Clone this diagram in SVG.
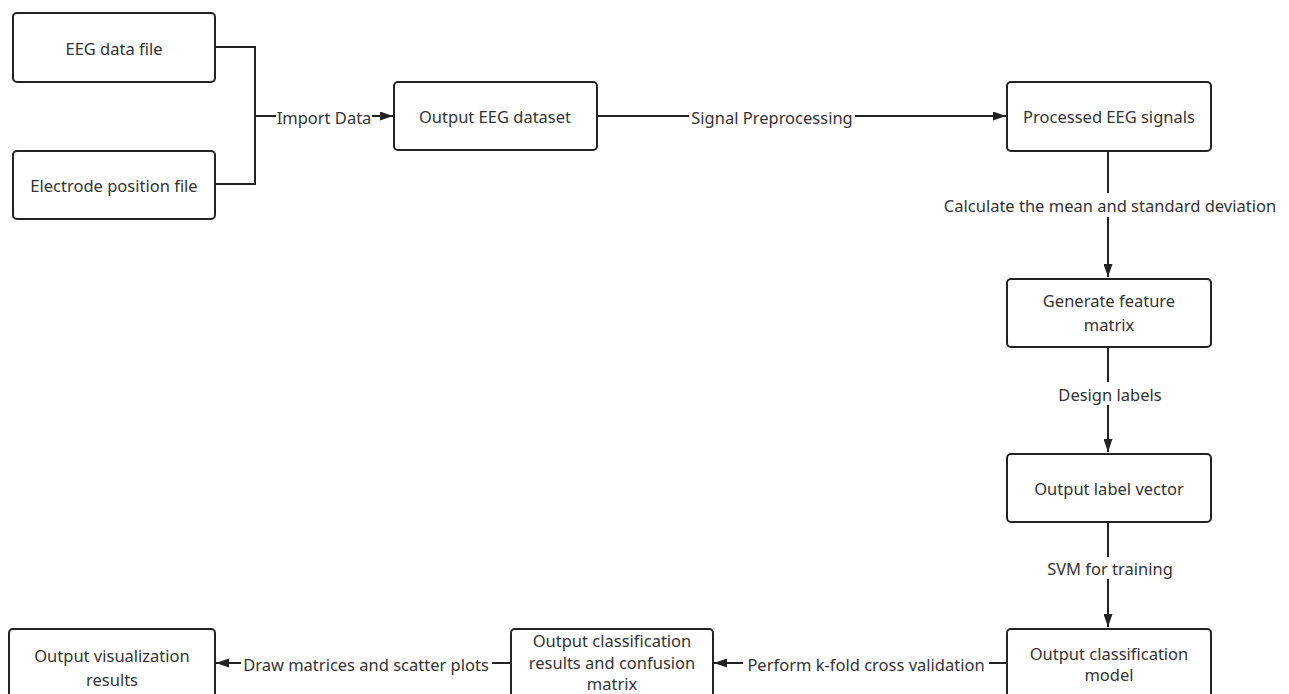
<svg xmlns="http://www.w3.org/2000/svg" width="1289" height="694" viewBox="0 0 1289 694">
<defs>
<marker id="arr" viewBox="0 0 13 9" refX="13" refY="4.5" markerWidth="13" markerHeight="9" markerUnits="userSpaceOnUse" orient="auto">
<path d="M0,0 L13,4.5 L0,9 z" fill="#222"/>
</marker>
<style>
.box{fill:#fff;stroke:#222;stroke-width:2}
.t{font-family:"Noto Sans","Open Sans",sans-serif;font-size:16.5px;fill:#333;text-anchor:middle;dominant-baseline:central}
.c{fill:none;stroke:#222;stroke-width:2}
.lb{font-family:"Noto Sans","Open Sans",sans-serif;font-size:16.5px;fill:#333;text-anchor:middle;dominant-baseline:central}
.bg{fill:#fff}
</style>
</defs>
<rect width="1289" height="694" fill="#fff"/>
<g id="connectors">
<path class="c" d="M215,47 H255 V184 H215"/>
<path class="c" d="M255,116 H393" marker-end="url(#arr)"/>
<rect class="bg" x="276" y="105" width="96" height="24"/>
<text class="lb" x="324" y="117">Import Data</text>
<path class="c" d="M597,116 H1006" marker-end="url(#arr)"/>
<rect class="bg" x="689" y="105" width="166" height="24"/>
<text class="lb" x="772" y="117">Signal Preprocessing</text>
<path class="c" d="M1108,151 V277" marker-end="url(#arr)"/>
<rect class="bg" x="938" y="193" width="344" height="24"/>
<text class="lb" x="1110" y="205">Calculate the mean and standard deviation</text>
<path class="c" d="M1108,347 V452" marker-end="url(#arr)"/>
<rect class="bg" x="1055" y="382" width="110" height="23"/>
<text class="lb" x="1110" y="394">Design labels</text>
<path class="c" d="M1108,522 V627" marker-end="url(#arr)"/>
<rect class="bg" x="1043" y="557" width="134" height="22"/>
<text class="lb" x="1110" y="568">SVM for training</text>
<path class="c" d="M1007,663 H714" marker-end="url(#arr)"/>
<rect class="bg" x="743" y="651" width="246" height="24"/>
<text class="lb" x="866" y="664">Perform k-fold cross validation</text>
<path class="c" d="M511,663 H216" marker-end="url(#arr)"/>
<rect class="bg" x="241" y="651" width="251" height="24"/>
<text class="lb" x="366" y="664">Draw matrices and scatter plots</text>
</g>
<g id="n1"><rect class="box" x="13" y="13" width="202" height="69" rx="4"/><text class="t" x="114" y="48">EEG data file</text></g>
<g id="n2"><rect class="box" x="13" y="151" width="202" height="68" rx="4"/><text class="t" x="114" y="185">Electrode position file</text></g>
<g id="n3"><rect class="box" x="394" y="82" width="203" height="68" rx="4"/><text class="t" x="495" y="116">Output EEG dataset</text></g>
<g id="n4"><rect class="box" x="1007" y="82" width="204" height="69" rx="4"/><text class="t" x="1109" y="116">Processed EEG signals</text></g>
<g id="n5"><rect class="box" x="1007" y="279" width="204" height="68" rx="4"/><text class="t" x="1109" y="300">Generate feature</text><text class="t" x="1109" y="324">matrix</text></g>
<g id="n6"><rect class="box" x="1007" y="454" width="204" height="68" rx="4"/><text class="t" x="1109" y="488">Output label vector</text></g>
<g id="n7"><rect class="box" x="1007" y="629" width="204" height="70" rx="4"/><text class="t" x="1109" y="653">Output classification</text><text class="t" x="1109" y="674">model</text></g>
<g id="n8"><rect class="box" x="511" y="629" width="202" height="70" rx="4"/><text class="t" x="612" y="640">Output classification</text><text class="t" x="612" y="662">results and confusion</text><text class="t" x="612" y="683">matrix</text></g>
<g id="n9"><rect class="box" x="9" y="629" width="206" height="70" rx="4"/><text class="t" x="112" y="655">Output visualization</text><text class="t" x="112" y="679">results</text></g>
</svg>
